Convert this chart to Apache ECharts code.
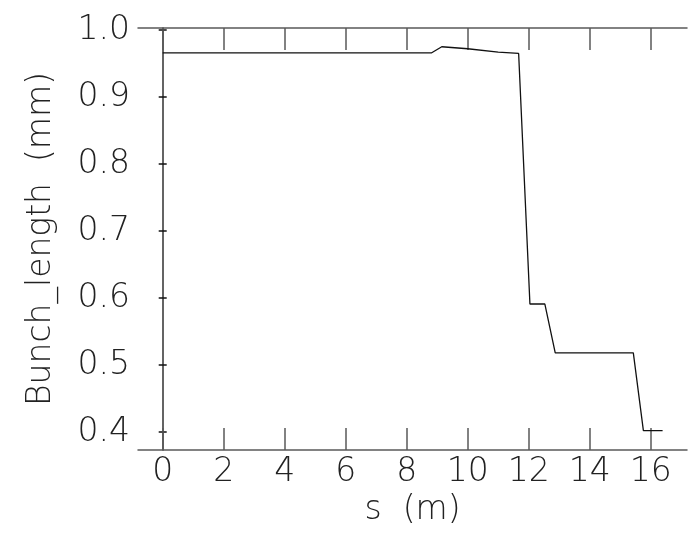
<!DOCTYPE html>
<html>
<head>
<meta charset="utf-8">
<script src="https://cdn.jsdelivr.net/npm/echarts@6/dist/echarts.min.js"></script>
<style>html,body{margin:0;padding:0;background:#fff}#c{width:699px;height:539px}</style>
</head>
<body>
<div id="c"></div>
<script>
// s (m) and Bunch_length (mm)
const sValues = [0, 8.82, 9.15, 10.0, 11.0, 11.67, 12.04, 12.53, 12.87, 15.43, 15.76, 16.39];
const bunchLength = [0.966, 0.966, 0.975, 0.972, 0.967, 0.965, 0.591, 0.591, 0.518, 0.518, 0.402, 0.402];
const xTicks = [0, 2, 4, 6, 8, 10, 12, 14, 16];
const yTicks = [0.4, 0.5, 0.6, 0.7, 0.8, 0.9, 1.0];

const FONT = 'DejaVu Sans';
const frame = { show: true, lineStyle: { color: '#5a5a5a', width: 1.5 } };
const chart = echarts.init(document.getElementById('c'), null, { renderer: 'canvas' });
const xBase = {
  type: 'value', min: -0.81, max: 17.19, splitLine: { show: false },
  axisLine: frame
};
const yBase = {
  type: 'value', min: 0.3731, max: 1.003, splitLine: { show: false },
  axisLine: frame
};
chart.setOption({
  animation: false,
  backgroundColor: '#fff',
  grid: { left: 138, top: 28, right: 12, bottom: 89, containLabel: false },
  xAxis: [
    Object.assign({}, xBase, {
      position: 'bottom',
      name: 's  (m)', nameLocation: 'middle', nameGap: 42,
      nameTextStyle: { fontFamily: FONT, fontSize: 33, fontWeight: 200, color: '#222' },
      axisTick: { show: true, inside: true, length: 22, customValues: xTicks, lineStyle: { color: '#5a5a5a', width: 1.5 } },
      axisLabel: { show: true, customValues: xTicks, margin: 6, fontFamily: FONT, fontSize: 33, fontWeight: 200, color: '#222' }
    }),
    Object.assign({}, xBase, {
      position: 'top',
      axisTick: { show: true, inside: true, length: 22, customValues: xTicks, lineStyle: { color: '#5a5a5a', width: 1.5 } },
      axisLabel: { show: false }
    })
  ],
  yAxis: [
    Object.assign({}, yBase, {
      position: 'left',
      name: 'Bunch_length  (mm)', nameLocation: 'middle', nameGap: 80,
      nameTextStyle: { fontFamily: FONT, fontSize: 33, fontWeight: 200, color: '#222' },
      axisTick: { show: true, inside: true, length: 4, customValues: yTicks, lineStyle: { color: '#111', width: 1.5 } },
      axisLabel: { show: true, customValues: yTicks, margin: 8, fontFamily: FONT, fontSize: 33, fontWeight: 200, color: '#222',
        formatter: v => v.toFixed(1) }
    }),
    Object.assign({}, yBase, {
      position: 'right',
      axisTick: { show: true, inside: true, length: 4, customValues: yTicks, lineStyle: { color: '#111', width: 1.5 } },
      axisLabel: { show: false }
    })
  ],
  series: [{
    type: 'line',
    xAxisIndex: 0, yAxisIndex: 0,
    data: sValues.map((s, i) => [s, bunchLength[i]]),
    showSymbol: false,
    lineStyle: { color: '#111', width: 1.3 },
    silent: true
  }]
});
</script>
</body>
</html>
